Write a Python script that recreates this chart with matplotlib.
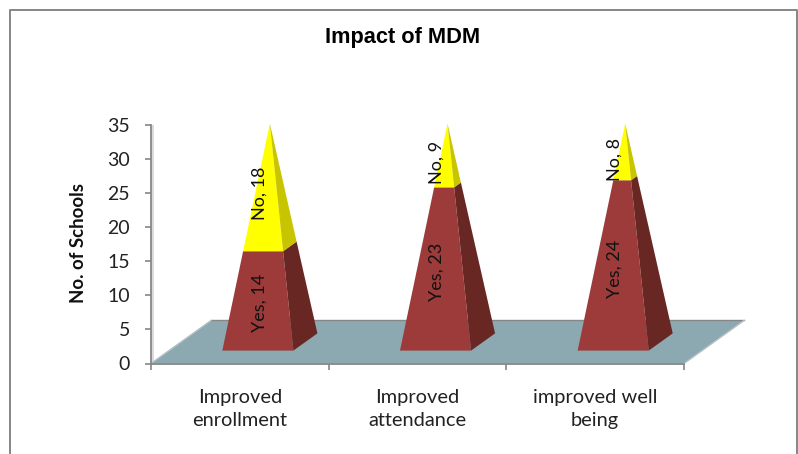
import matplotlib
matplotlib.use('Agg')
import matplotlib.pyplot as plt
from matplotlib.lines import Line2D
from matplotlib.patches import Polygon

categories = ['Improved\nenrollment', 'Improved\nattendance', 'improved well\nbeing']
yes_values = [14, 23, 24]
no_values = [18, 9, 8]
y_ticks = [0, 5, 10, 15, 20, 25, 30, 35]

W, H = 798, 454
GREY = '#868686'
FLOOR = '#8CA9B1'
FLOOR_EDGE = '#B4BFC2'
YES_FRONT = '#9C3B3A'
YES_SIDE = '#692724'
NO_FRONT = '#FFFF00'
NO_SIDE = '#C9C400'

# floor depth in data units (the 3d shear of the chart)
DEPTH_X = 0.338
DEPTH_Y = 6.3
HALF_W = 0.2
LABEL_SHIFT = 0.009


def project(x, depth, y):
    return x + depth * DEPTH_X, y + depth * DEPTH_Y


def level(cx, frac, total):
    # corners of the pyramid section at a fraction of its height
    apex = project(cx, 0.5, total)
    base = {'fl': project(cx - HALF_W, 0.3, 0),
            'fr': project(cx + HALF_W, 0.3, 0),
            'br': project(cx + HALF_W, 0.7, 0)}
    out = {}
    for k, p in base.items():
        out[k] = (p[0] + (apex[0] - p[0]) * frac, p[1] + (apex[1] - p[1]) * frac)
    return out


fig = plt.figure(figsize=(W / 100, H / 100), dpi=100)
ax = fig.add_axes([151 / W, 1 - 363.5 / H, 533 / W, 239 / H])
ax.set_xlim(0, 3)
ax.set_ylim(0, 35)
ax.patch.set_alpha(0)

# pale edge of the 3d wall next to the y axis
ax.axvline(0.009, color='#D4D4D4', lw=1.2, zorder=0.5)

# floor
floor = [project(0, 0, 0), project(3, 0, 0), project(3, 1, 0), project(0, 1, 0)]
ax.add_patch(Polygon(floor, closed=True, facecolor=FLOOR, edgecolor='none', clip_on=False, zorder=1))
ax.plot(*zip(floor[2], floor[3]), color=GREY, lw=1.0, clip_on=False, zorder=1.5)
ax.plot(*zip(floor[1], floor[2]), color=FLOOR_EDGE, lw=1.0, clip_on=False, zorder=1.5)
ax.plot(*zip(floor[0], floor[3]), color=FLOOR_EDGE, lw=1.0, clip_on=False, zorder=1.5)

for i in range(len(categories)):
    cx = i + 0.5
    total = yes_values[i] + no_values[i]
    bottom = level(cx, 0, total)
    mid = level(cx, yes_values[i] / total, total)
    top = level(cx, 1, total)

    ax.add_patch(Polygon([bottom['fl'], bottom['fr'], mid['fr'], mid['fl']], facecolor=YES_FRONT,
                         edgecolor='none', clip_on=False, zorder=3))
    ax.add_patch(Polygon([bottom['fr'], bottom['br'], mid['br'], mid['fr']], facecolor=YES_SIDE,
                         edgecolor='none', clip_on=False, zorder=3))
    ax.add_patch(Polygon([mid['fl'], mid['fr'], top['fr']], facecolor=NO_FRONT,
                         edgecolor='none', clip_on=False, zorder=3))
    ax.add_patch(Polygon([mid['fr'], mid['br'], top['fr']], facecolor=NO_SIDE,
                         edgecolor='none', clip_on=False, zorder=3))

    # data labels sit in the middle of each stacked segment
    lx, ly = project(cx + LABEL_SHIFT, 0.3, yes_values[i] / 2)
    ax.text(lx, ly, 'Yes, %d' % yes_values[i], rotation=90, ha='center', va='center',
            fontsize=13, family='Lato', color='#111111', zorder=5)
    lx, ly = project(cx + LABEL_SHIFT, 0.3, yes_values[i] + no_values[i] / 2)
    ax.text(lx, ly, 'No, %d' % no_values[i], rotation=90, ha='center', va='center',
            fontsize=13, family='Lato', color='#111111', zorder=5)

for s in ['top', 'right']:
    ax.spines[s].set_visible(False)
for s in ['left', 'bottom']:
    ax.spines[s].set_color(GREY)
    ax.spines[s].set_linewidth(1.3)
    ax.spines[s].set_zorder(2)

ax.set_yticks(y_ticks)
ax.set_xticks([0, 1, 2, 3])
ax.set_xticklabels([])
ax.set_xticks([0.5, 1.5, 2.5], minor=True)
ax.set_xticklabels(categories, minor=True, fontsize=14.4, family='Lato', color='#222222', linespacing=1.48)
ax.tick_params(axis='x', which='major', length=4, width=1.2, color=GREY, direction='out')
ax.tick_params(axis='x', which='minor', length=0, pad=18)
ax.tick_params(axis='y', length=4, width=1.2, color=GREY, direction='out', pad=11)
for lab in ax.get_yticklabels():
    lab.set_fontsize(14)
    lab.set_family('Lato')
    lab.set_color('#222222')

ax.set_ylabel('No. of Schools', fontsize=13.4, family='Lato', fontweight='bold', color='#111111')
ax.yaxis.set_label_coords(87 / W, 1 - 243 / H, transform=fig.transFigure)

fig.text(402.5 / W, 1 - 38 / H, 'Impact of MDM', ha='center', va='center', fontsize=15.7,
         family='Liberation Sans', fontweight='bold', color='black')

# chart border, the picture is cut off before its bottom edge
x0, x1 = 10 / W, 796.5 / W
ytop = 1 - 10 / H
fig.add_artist(Line2D([x0, x0, x1, x1], [0, ytop, ytop, 0], transform=fig.transFigure, color=GREY, lw=1.4))

fig.savefig('out.png', dpi=100, facecolor='white')
